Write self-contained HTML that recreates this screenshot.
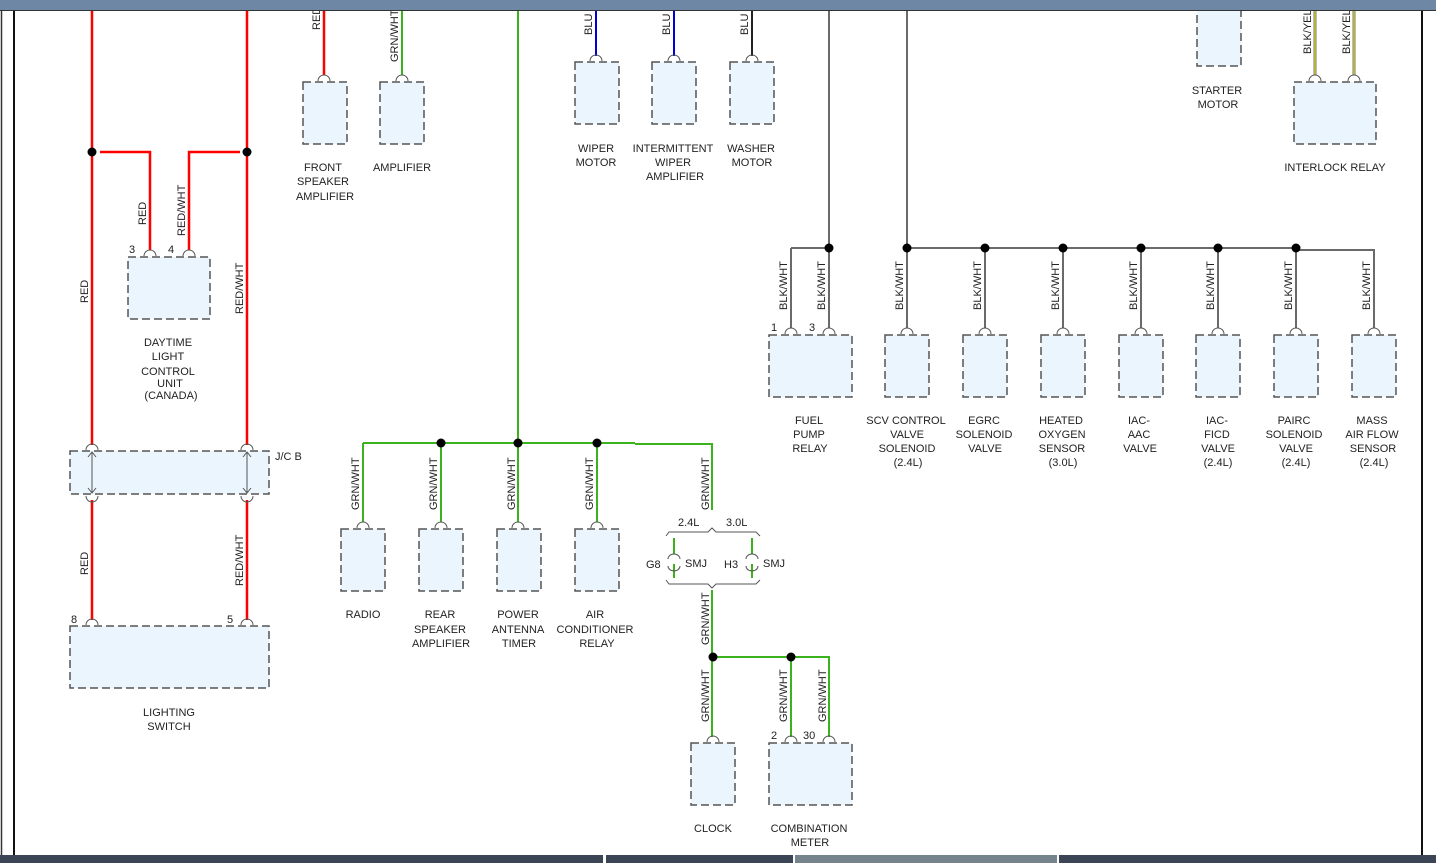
<!DOCTYPE html>
<html><head><meta charset="utf-8"><style>
html,body{margin:0;padding:0;background:#fff;width:1436px;height:863px;overflow:hidden}
svg{display:block}
text{font-family:"Liberation Sans",sans-serif;font-size:11px;fill:#222}
.b{fill:#eaf5fd;stroke:#555;stroke-width:1.5;stroke-dasharray:8,4}
.r{stroke:#f00;stroke-width:2.5;fill:none}
.g{stroke:#3cb21c;stroke-width:2;fill:none}
.u{stroke:#0000d0;stroke-width:2;fill:none}
.k{stroke:#6a6a6a;stroke-width:2;fill:none}
.c{fill:none;stroke:#555;stroke-width:1}
.m{text-anchor:middle}
</style></head><body>
<svg width="1436" height="863" viewBox="0 0 1436 863" xmlns="http://www.w3.org/2000/svg">
<line x1="1.5" y1="10" x2="1.5" y2="855" stroke="#333" stroke-width="1.5"/>
<line x1="14" y1="10" x2="14" y2="855" stroke="#111" stroke-width="2"/>
<line x1="1422" y1="10" x2="1422" y2="855" stroke="#111" stroke-width="2"/>
<rect x="0" y="855" width="603" height="8" fill="#3b4555"/>
<rect x="606" y="855" width="187" height="8" fill="#3b4555"/>
<rect x="795" y="855" width="262" height="8" fill="#76848d"/>
<rect x="1059" y="855" width="377" height="8" fill="#3b4555"/>

<!-- left red section -->
<path class="r" d="M92 10V445M92 500V620M100 152H150V250M247 10V445M247 500V620M240 152H189V250"/>
<circle cx="92" cy="152" r="4.5"/><circle cx="247" cy="152" r="4.5"/>
<rect class="b" x="128" y="257" width="82" height="62"/>
<path class="c" d="M144 256a6 6 0 0 1 12 0M183 256a6 6 0 0 1 12 0"/>
<text x="129" y="253">3</text><text x="168" y="253">4</text>
<text transform="translate(146,225) rotate(-90)">RED</text>
<text transform="translate(185,236) rotate(-90)">RED/WHT</text>
<text transform="translate(88,303) rotate(-90)">RED</text>
<text transform="translate(243,314) rotate(-90)">RED/WHT</text>
<text class="m" x="168" y="346">DAYTIME</text><text class="m" x="168" y="360">LIGHT</text><text class="m" x="168" y="375">CONTROL</text><text class="m" x="170" y="387">UNIT</text><text class="m" x="171" y="399">(CANADA)</text>
<rect class="b" x="70" y="451" width="199" height="43"/>
<path class="c" d="M86 450a6 6 0 0 1 12 0M241 450a6 6 0 0 1 12 0M86 496a6 6 0 0 0 12 0M241 496a6 6 0 0 0 12 0"/>
<path class="c" d="M92 452V493M88 457l4-5 4 5M88 488l4 5 4-5M247 452V493M243 457l4-5 4 5M243 488l4 5 4-5"/>
<text x="275" y="460">J/C B</text>
<text transform="translate(88,575) rotate(-90)">RED</text>
<text transform="translate(243,586) rotate(-90)">RED/WHT</text>
<rect class="b" x="70" y="626" width="199" height="62"/>
<path class="c" d="M86 625a6 6 0 0 1 12 0M241 625a6 6 0 0 1 12 0"/>
<text x="71" y="623">8</text><text x="227" y="623">5</text>
<text class="m" x="169" y="716">LIGHTING</text><text class="m" x="169" y="730">SWITCH</text>

<!-- top components -->
<path class="r" d="M324 10V75"/>
<path class="g" d="M402 10V75"/>
<rect class="b" x="303" y="82" width="44" height="62"/><rect class="b" x="380" y="82" width="44" height="62"/>
<path class="c" d="M318 81a6 6 0 0 1 12 0M396 81a6 6 0 0 1 12 0"/>
<text transform="translate(320,30) rotate(-90)">RED</text>
<text transform="translate(398,62) rotate(-90)">GRN/WHT</text>
<text class="m" x="323" y="171">FRONT</text><text class="m" x="323" y="185">SPEAKER</text><text class="m" x="325" y="200">AMPLIFIER</text>
<text class="m" x="402" y="171">AMPLIFIER</text>

<path class="u" d="M596 10V56M674 10V56"/><path d="M752 10V56" stroke="#222" stroke-width="2"/>
<rect class="b" x="575" y="62" width="44" height="62"/><rect class="b" x="652" y="62" width="44" height="62"/><rect class="b" x="730" y="62" width="44" height="62"/>
<path class="c" d="M590 61a6 6 0 0 1 12 0M668 61a6 6 0 0 1 12 0M746 61a6 6 0 0 1 12 0"/>
<text transform="translate(592,35) rotate(-90)">BLU</text><text transform="translate(670,35) rotate(-90)">BLU</text><text transform="translate(748,35) rotate(-90)">BLU</text>
<text class="m" x="596" y="152">WIPER</text><text class="m" x="596" y="166">MOTOR</text>
<text class="m" x="673" y="152">INTERMITTENT</text><text class="m" x="673" y="166">WIPER</text><text class="m" x="675" y="180">AMPLIFIER</text>
<text class="m" x="751" y="152">WASHER</text><text class="m" x="752" y="166">MOTOR</text>

<!-- green branch -->
<path class="g" d="M518 10V443M363 443H635M635 444H712V510M363 443V522M441 443V522M518 443V522M597 443V522"/>
<circle cx="441" cy="443" r="4.5"/><circle cx="518" cy="443" r="4.5"/><circle cx="597" cy="443" r="4.5"/>
<rect class="b" x="341" y="529" width="44" height="62"/><rect class="b" x="419" y="529" width="44" height="62"/><rect class="b" x="497" y="529" width="44" height="62"/><rect class="b" x="575" y="529" width="44" height="62"/>
<path class="c" d="M357 528a6 6 0 0 1 12 0M435 528a6 6 0 0 1 12 0M512 528a6 6 0 0 1 12 0M591 528a6 6 0 0 1 12 0"/>
<text transform="translate(359,510) rotate(-90)">GRN/WHT</text><text transform="translate(437,510) rotate(-90)">GRN/WHT</text><text transform="translate(515,510) rotate(-90)">GRN/WHT</text><text transform="translate(593,510) rotate(-90)">GRN/WHT</text><text transform="translate(709,510) rotate(-90)">GRN/WHT</text>
<text class="m" x="363" y="618">RADIO</text>
<text class="m" x="440" y="618">REAR</text><text class="m" x="440" y="633">SPEAKER</text><text class="m" x="441" y="647">AMPLIFIER</text>
<text class="m" x="518" y="618">POWER</text><text class="m" x="518" y="633">ANTENNA</text><text class="m" x="519" y="647">TIMER</text>
<text class="m" x="595" y="618">AIR</text><text class="m" x="595" y="633">CONDITIONER</text><text class="m" x="597" y="647">RELAY</text>
<text x="678" y="526">2.4L</text><text x="726" y="526">3.0L</text>
<path class="c" d="M666 536l3-4H708l4-4 4 4H756l4 4M666 580l3 4H708l4 4 4-4H756l4-4"/>
<path class="g" d="M674 538V554M674 564V578M752 538V554M752 564V578"/>
<path class="c" d="M668 559a6 5 0 0 1 12 0M668 566a6 5 0 0 0 12 0M746 559a6 5 0 0 1 12 0M746 566a6 5 0 0 0 12 0"/>
<text x="646" y="568">G8</text><text x="685" y="567">SMJ</text><text x="724" y="568">H3</text><text x="763" y="567">SMJ</text>
<path class="g" d="M712 590V737M713 657H829V737M791 657V737"/>
<circle cx="713" cy="657" r="4.5"/><circle cx="791" cy="657" r="4.5"/>
<text transform="translate(709,645) rotate(-90)">GRN/WHT</text>
<text transform="translate(709,722) rotate(-90)">GRN/WHT</text><text transform="translate(787,722) rotate(-90)">GRN/WHT</text><text transform="translate(826,722) rotate(-90)">GRN/WHT</text>
<rect class="b" x="691" y="743" width="44" height="62"/><rect class="b" x="769" y="743" width="83" height="62"/>
<path class="c" d="M707 742a6 6 0 0 1 12 0M785 742a6 6 0 0 1 12 0M823 742a6 6 0 0 1 12 0"/>
<text x="771" y="739">2</text><text x="803" y="739">30</text>
<text class="m" x="713" y="832">CLOCK</text><text class="m" x="809" y="832">COMBINATION</text><text class="m" x="810" y="846">METER</text>

<!-- gray branch -->
<path class="k" d="M829 10V248M907 10V248M791 248H829M907 248H1296M1296 250H1374V328M791 248V328M829 248V328M907 248V328M985 248V328M1063 248V328M1141 248V328M1218 248V328M1296 248V328"/>
<circle cx="829" cy="248" r="4.5"/><circle cx="907" cy="248" r="4.5"/><circle cx="985" cy="248" r="4.5"/><circle cx="1063" cy="248" r="4.5"/><circle cx="1141" cy="248" r="4.5"/><circle cx="1218" cy="248" r="4.5"/><circle cx="1296" cy="248" r="4.5"/>
<rect class="b" x="769" y="335" width="83" height="62"/>
<rect class="b" x="885" y="335" width="44" height="62"/><rect class="b" x="963" y="335" width="44" height="62"/><rect class="b" x="1041" y="335" width="44" height="62"/><rect class="b" x="1119" y="335" width="44" height="62"/><rect class="b" x="1196" y="335" width="44" height="62"/><rect class="b" x="1274" y="335" width="44" height="62"/><rect class="b" x="1352" y="335" width="44" height="62"/>
<path class="c" d="M785 334a6 6 0 0 1 12 0M823 334a6 6 0 0 1 12 0M901 334a6 6 0 0 1 12 0M979 334a6 6 0 0 1 12 0M1057 334a6 6 0 0 1 12 0M1135 334a6 6 0 0 1 12 0M1212 334a6 6 0 0 1 12 0M1290 334a6 6 0 0 1 12 0M1368 334a6 6 0 0 1 12 0"/>
<text x="771" y="331">1</text><text x="809" y="331">3</text>
<g>
<text transform="translate(787,310) rotate(-90)">BLK/WHT</text><text transform="translate(825,310) rotate(-90)">BLK/WHT</text><text transform="translate(903,310) rotate(-90)">BLK/WHT</text><text transform="translate(981,310) rotate(-90)">BLK/WHT</text><text transform="translate(1059,310) rotate(-90)">BLK/WHT</text><text transform="translate(1137,310) rotate(-90)">BLK/WHT</text><text transform="translate(1214,310) rotate(-90)">BLK/WHT</text><text transform="translate(1292,310) rotate(-90)">BLK/WHT</text><text transform="translate(1370,310) rotate(-90)">BLK/WHT</text>
</g>
<text class="m" x="809" y="424">FUEL</text><text class="m" x="809" y="438">PUMP</text><text class="m" x="810" y="452">RELAY</text>
<text class="m" x="906" y="424">SCV CONTROL</text><text class="m" x="907" y="438">VALVE</text><text class="m" x="907" y="452">SOLENOID</text><text class="m" x="908" y="466">(2.4L)</text>
<text class="m" x="984" y="424">EGRC</text><text class="m" x="984" y="438">SOLENOID</text><text class="m" x="985" y="452">VALVE</text>
<text class="m" x="1061" y="424">HEATED</text><text class="m" x="1062" y="438">OXYGEN</text><text class="m" x="1062" y="452">SENSOR</text><text class="m" x="1063" y="466">(3.0L)</text>
<text class="m" x="1139" y="424">IAC-</text><text class="m" x="1139" y="438">AAC</text><text class="m" x="1140" y="452">VALVE</text>
<text class="m" x="1217" y="424">IAC-</text><text class="m" x="1217" y="438">FICD</text><text class="m" x="1218" y="452">VALVE</text><text class="m" x="1218" y="466">(2.4L)</text>
<text class="m" x="1294" y="424">PAIRC</text><text class="m" x="1294" y="438">SOLENOID</text><text class="m" x="1296" y="452">VALVE</text><text class="m" x="1296" y="466">(2.4L)</text>
<text class="m" x="1372" y="424">MASS</text><text class="m" x="1372" y="438">AIR FLOW</text><text class="m" x="1373" y="452">SENSOR</text><text class="m" x="1374" y="466">(2.4L)</text>

<!-- right top -->
<rect class="b" x="1197" y="5" width="44" height="61"/>
<text class="m" x="1217" y="94">STARTER</text><text class="m" x="1218" y="108">MOTOR</text>
<path d="M1315 10V75M1354 10V75" stroke="#777" stroke-width="3"/><path d="M1315 10V75M1354 10V75" stroke="#ee0" stroke-width="1"/>
<rect class="b" x="1294" y="82" width="82" height="62"/>
<path class="c" d="M1309 81a6 6 0 0 1 12 0M1348 81a6 6 0 0 1 12 0"/>
<text transform="translate(1311,54) rotate(-90)">BLK/YEL</text><text transform="translate(1350,54) rotate(-90)">BLK/YEL</text>
<text class="m" x="1335" y="171">INTERLOCK RELAY</text>

<rect x="0" y="0" width="1436" height="10" fill="#6d87a4"/>
<line x1="0" y1="10.5" x2="1436" y2="10.5" stroke="#333"/>
</svg>
</body></html>
